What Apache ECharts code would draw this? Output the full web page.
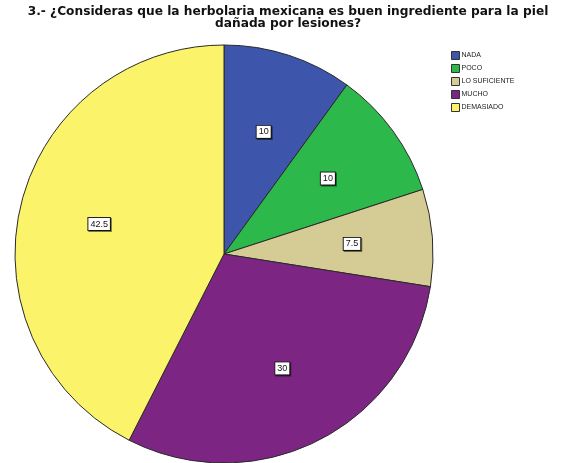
<!DOCTYPE html>
<html>
<head>
<meta charset="utf-8">
<script src="https://cdn.jsdelivr.net/npm/echarts@6/dist/echarts.min.js"></script>
<style>
  html, body { margin: 0; padding: 0; background: #fff; }
  #chart { width: 576px; height: 463px; }
</style>
</head>
<body>
<div id="chart"></div>
<script>
// Answer categories and their percentages
const categories = ['NADA', 'POCO', 'LO SUFICIENTE', 'MUCHO', 'DEMASIADO'];
const values = [10, 10, 7.5, 30, 42.5];
const colors = ['#3D56AB', '#2DB84B', '#D5CC95', '#7C2582', '#FBF46B'];

const titleText = '3.- ¿Consideras que la herbolaria mexicana es buen ingrediente para la piel\ndañada por lesiones?';

const sliceData = categories.map((name, i) => ({
  name: name,
  value: values[i],
  itemStyle: { color: colors[i] }
}));

const center = [224, 254];
const radius = 209;

const chart = echarts.init(document.getElementById('chart'), null, { renderer: 'canvas' });
chart.setOption({
  animation: false,
  backgroundColor: '#ffffff',
  title: {
    text: titleText,
    left: 283,
    textAlign: 'center',
    top: 1,
    textStyle: {
      fontFamily: 'DejaVu Sans, sans-serif',
      fontSize: 12.2,
      fontWeight: 'bold',
      color: '#111',
      lineHeight: 12
    }
  },
  legend: {
    orient: 'vertical',
    left: 446,
    top: 46,
    itemWidth: 8,
    itemHeight: 8,
    itemGap: 4,
    icon: 'rect',
    itemStyle: { borderColor: '#333', borderWidth: 1 },
    textStyle: { fontSize: 7, color: '#222', fontFamily: 'Liberation Sans, Arial, sans-serif', padding: [0, 0, 0, -3] },
    data: categories
  },
  series: [
    {
      type: 'pie',
      center: center,
      radius: [0, radius],
      startAngle: 90,
      clockwise: true,
      avoidLabelOverlap: false,
      silent: true,
      itemStyle: { borderColor: '#2a2a2a', borderWidth: 1 },
      label: { show: false },
      labelLine: { show: false },
      emphasis: { disabled: true },
      data: sliceData
    },
    {
      // transparent copy used only to place the value tags
      type: 'pie',
      center: center,
      radius: [0, radius * 1.2],
      startAngle: 90,
      clockwise: true,
      avoidLabelOverlap: false,
      silent: true,
      legendHoverLink: false,
      itemStyle: { color: 'rgba(0,0,0,0)', borderWidth: 0 },
      label: {
        show: true,
        position: 'inside',
        formatter: p => String(p.value),
        fontSize: 9,
        fontFamily: 'Liberation Sans, Arial, sans-serif',
        color: '#111',
        backgroundColor: '#ffffff',
        borderColor: '#222',
        borderWidth: 1,
        padding: [2, 2, 1, 2],
        shadowColor: 'rgba(0,0,0,0.5)',
        shadowOffsetX: 1,
        shadowOffsetY: 1,
        shadowBlur: 0
      },
      labelLine: { show: false },
      emphasis: { disabled: true },
      data: categories.map((name, i) => ({ name: name + ' ', value: values[i] }))
    }
  ]
});
</script>
</body>
</html>
